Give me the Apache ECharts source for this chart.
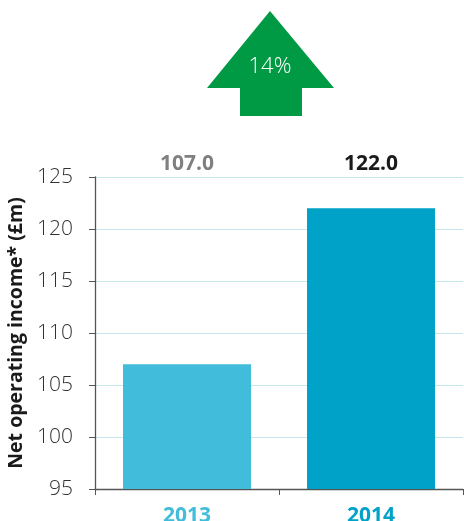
<!DOCTYPE html>
<html><head><meta charset="utf-8">
<script src="https://cdn.jsdelivr.net/npm/echarts@6/dist/echarts.min.js"></script>
<style>html,body{margin:0;padding:0;background:#fff}#c{width:464px;height:521px}</style>
</head><body><div id="c"></div>
<script>
const categories = ['2013', '2014'];
const values = [107.0, 122.0];
const yTicks = [95, 100, 105, 110, 115, 120, 125];
const changeLabel = '14%';
const barColors = ['#41BCDA', '#00A2C7'];
const catColors = ['#41BCDA', '#00A2C7'];
const valueColors = ['#808080', '#1a1a1a'];
const FF = 'Open Sans';

const chart = echarts.init(document.getElementById('c'));
chart.setOption({
  animation: false,
  grid: { left: 95, right: 1, top: 177, bottom: 32, outerBoundsMode: 'none', containLabel: false },
  xAxis: [{
    type: 'category', data: categories, position: 'bottom',
    axisLine: { lineStyle: { color: '#555', width: 1.3 } },
    axisTick: { show: true, length: 6, lineStyle: { color: '#555' } },
    axisLabel: { margin: 17, fontSize: 21, fontWeight: 'bold', fontFamily: FF,
      formatter: (v, i) => '{c' + i + '|' + v + '}',
      rich: { c0: { color: catColors[0], fontSize: 21, fontWeight: 'bold', fontFamily: FF },
              c1: { color: catColors[1], fontSize: 21, fontWeight: 'bold', fontFamily: FF } } }
  }, {
    type: 'category', data: values.map(v => v.toFixed(1)), position: 'top',
    axisLine: { show: false }, axisTick: { show: false },
    axisLabel: { margin: 2, fontSize: 21, fontWeight: 'bold', fontFamily: FF,
      formatter: (v, i) => '{v' + i + '|' + v + '}',
      rich: { v0: { color: valueColors[0], fontSize: 21, fontWeight: 'bold', fontFamily: FF },
              v1: { color: valueColors[1], fontSize: 21, fontWeight: 'bold', fontFamily: FF } } }
  }],
  yAxis: {
    type: 'value', min: yTicks[0], max: yTicks[yTicks.length - 1], interval: 5,
    name: 'Net operating income* (£m)', nameLocation: 'middle', nameGap: 65,
    nameTextStyle: { fontSize: 19.5, fontWeight: 'bold', color: '#1a1a1a', fontFamily: FF },
    axisLine: { show: true, lineStyle: { color: '#555', width: 1.3 } },
    axisTick: { show: true, length: 6, lineStyle: { color: '#555' } },
    axisLabel: { margin: 22, fontSize: 21, color: '#333', fontFamily: FF, fontWeight: 300 },
    splitLine: { lineStyle: { color: '#c6e6f0', width: 1 } }
  },
  series: [{
    type: 'bar', barWidth: 128, xAxisIndex: 0,
    data: values.map((v, i) => ({ value: v, itemStyle: { color: barColors[i] } }))
  }],
  graphic: [{
    type: 'polygon',
    shape: { points: [[270, 11], [334, 88], [302, 88], [302, 116], [240, 116], [240, 88], [207, 88]] },
    style: { fill: '#009A44' }
  }, {
    type: 'text', x: 270, y: 67,
    style: { text: changeLabel, fill: '#fff', fontSize: 22, fontFamily: FF, fontWeight: 300,
      align: 'center', verticalAlign: 'middle' }
  }]
});
</script></body></html>
